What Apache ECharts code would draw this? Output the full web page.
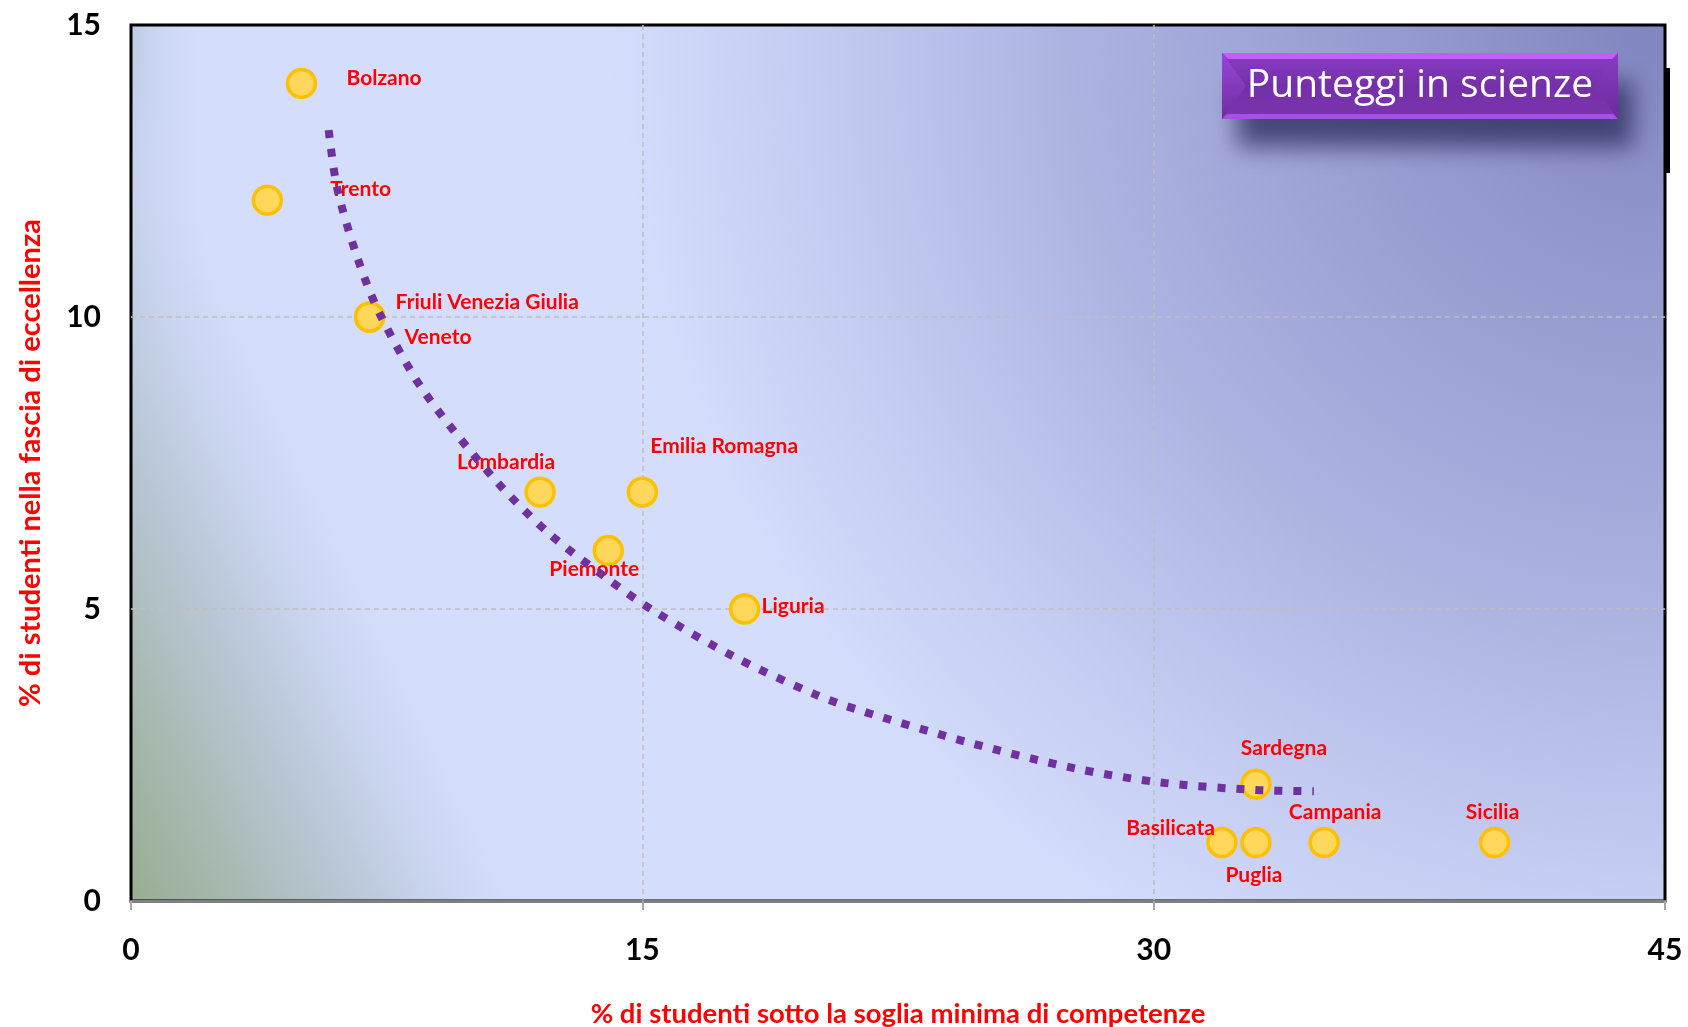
<!DOCTYPE html>
<html>
<head>
<meta charset="utf-8">
<script src="https://cdn.jsdelivr.net/npm/echarts@6/dist/echarts.min.js"></script>
<style>
  html, body { margin: 0; padding: 0; background: #fff; }
  #chart { width: 1688px; height: 1027px; }
</style>
</head>
<body>
<div id="chart"></div>
<script>
// regions: name, % below minimum threshold (x), % in excellence band (y)
const regions = ["Bolzano", "Trento", "Friuli Venezia Giulia", "Veneto", "Lombardia", "Emilia Romagna",
  "Piemonte", "Liguria", "Sardegna", "Basilicata", "Puglia", "Campania", "Sicilia"];
const belowMin = [5, 4, 7, 7, 12, 15, 14, 18, 33, 32, 33, 35, 40];
const excellence = [14, 12, 10, 10, 7, 7, 6, 5, 2, 1, 1, 1, 1];

// label placement relative to each point (px)
const labelPos = [
  ["left", 45, -5], ["left", 63, -11], ["left", 26, -15], ["left", 35, 20],
  ["center", -34, -30], ["left", 8, -46], ["center", -14, 19], ["left", 17, -3],
  ["center", 28, -36], ["right", -7, -14], ["center", -2, 33], ["center", 11, -30], ["center", -2, -30]
];

// trend curve
const trendX = [5.8, 6.05, 6.65, 7.3, 8.6, 10.7, 12.25, 13.95, 15.3, 17.7, 20.1, 21.4, 24.6, 27.7, 30.2, 33.0, 34.7];
const trendY = [13.2, 12.2, 11.0, 10.05, 8.72, 7.2, 6.3, 5.53, 4.98, 4.18, 3.53, 3.26, 2.71, 2.27, 2.03, 1.9, 1.88];

const xTicks = { min: 0, max: 45, interval: 15 };
const yTicks = { min: 0, max: 15, interval: 5 };

const G = { left: 131, top: 25, width: 1534, height: 876 };
const labelFont = "Lato, 'Open Sans', sans-serif";

// plot background painted once on a canvas
function plotBackground() {
  const c = document.createElement("canvas");
  c.width = G.width; c.height = G.height;
  const ctx = c.getContext("2d");
  const W = G.width, H = G.height;
  ctx.fillStyle = "#D4DEFC";
  ctx.fillRect(0, 0, W, H);

  // darker towards the top right
  let g = ctx.createRadialGradient(W, 0, 0, W, 0, 1250);
  g.addColorStop(0, "#8185C0");
  g.addColorStop(0.23, "#979CD0");
  g.addColorStop(0.46, "#ABB1E0");
  g.addColorStop(0.7, "#C6CEF3");
  g.addColorStop(0.85, "#D4DEFC");
  g.addColorStop(1, "#D4DEFC");
  ctx.fillStyle = g;
  ctx.fillRect(0, 0, W, H);

  // soft strip along the left edge
  g = ctx.createLinearGradient(0, 0, 80, 0);
  g.addColorStop(0, "rgba(186,199,222,0.8)");
  g.addColorStop(1, "rgba(212,222,252,0)");
  ctx.fillStyle = g;
  ctx.fillRect(0, 0, 80, H);

  // greenish corner bottom left
  const dx = 0.903, dy = -0.429, len = 370;
  g = ctx.createLinearGradient(0, H, dx * len, H + dy * len);
  g.addColorStop(0, "rgba(152,173,145,1)");
  g.addColorStop(0.3, "rgba(170,187,182,1)");
  g.addColorStop(0.6, "rgba(188,201,220,0.95)");
  g.addColorStop(0.85, "rgba(204,214,242,0.6)");
  g.addColorStop(1, "rgba(212,222,252,0)");
  ctx.fillStyle = g;
  ctx.fillRect(0, 0, W, H);
  return c;
}

const chart = echarts.init(document.getElementById("chart"));

const points = regions.map((name, i) => ({
  name: name,
  value: [belowMin[i], excellence[i]],
  label: {
    align: labelPos[i][0],
    offset: [labelPos[i][1], labelPos[i][2]]
  }
}));

const bw = 396, bh = 66;

chart.setOption({
  animation: false,
  backgroundColor: "#ffffff",
  grid: {
    left: G.left, top: G.top, width: G.width, height: G.height,
    outerBoundsMode: "none",
    show: true, borderColor: "#000", borderWidth: 3, backgroundColor: "transparent"
  },
  graphic: [
    {
      type: "image", z: -3, silent: true,
      style: { image: plotBackground(), x: G.left, y: G.top, width: G.width, height: G.height }
    },
    {
      type: "rect", z: 20, silent: true,
      shape: { x: 1665, y: 68, width: 5, height: 105 },
      style: { fill: "#000" }
    },
    {
      type: "group", z: 30, left: 1222, top: 53,
      children: [
        {
          type: "rect",
          shape: { x: 0, y: 0, width: bw, height: bh },
          style: {
            fill: {
              type: "linear", x: 0, y: 0, x2: 0, y2: 1,
              colorStops: [
                { offset: 0, color: "#8B3CC5" },
                { offset: 0.5, color: "#7430A8" },
                { offset: 1, color: "#7B34B0" }
              ]
            },
            shadowBlur: 25, shadowOffsetX: 15, shadowOffsetY: 28,
            shadowColor: "rgba(40,40,90,0.75)"
          }
        },
        {
          type: "polygon",
          shape: { points: [[0, 0], [bw, 0], [bw - 6, 6], [6, 6]] },
          style: { fill: "#C45CFF" }
        },
        {
          type: "polygon",
          shape: { points: [[0, bh], [bw, bh], [bw - 5, bh - 5], [5, bh - 5]] },
          style: { fill: "#A650E6" }
        },
        {
          type: "polygon",
          shape: { points: [[0, 0], [24, bh / 2], [0, bh]] },
          style: {
            fill: {
              type: "linear", x: 0, y: 0, x2: 0, y2: 1,
              colorStops: [{ offset: 0, color: "#9A45D8" }, { offset: 1, color: "#6E2DA2" }]
            }
          }
        },
        {
          type: "polygon",
          shape: { points: [[bw, 0], [bw - 24, bh / 2], [bw, bh]] },
          style: {
            fill: {
              type: "linear", x: 0, y: 0, x2: 0, y2: 1,
              colorStops: [{ offset: 0, color: "#8A3CC4" }, { offset: 1, color: "#6A2A9C" }]
            }
          }
        },
        {
          type: "text",
          style: {
            x: bw / 2, y: bh / 2, text: "Punteggi in scienze", fill: "#fff",
            font: "39px 'Open Sans', sans-serif", align: "center", verticalAlign: "middle"
          }
        }
      ]
    }
  ],
  xAxis: {
    type: "value", min: xTicks.min, max: xTicks.max, interval: xTicks.interval,
    name: "% di studenti sotto la soglia minima di competenze",
    nameLocation: "middle", nameGap: 99,
    nameTextStyle: { color: "#FF0000", fontSize: 27.5, fontWeight: "bold", fontFamily: labelFont },
    axisLine: { show: true, onZero: false, lineStyle: { color: "#7F7F7F", width: 2 } },
    axisTick: { show: true, length: 9, lineStyle: { color: "#A6A6A6", width: 2 } },
    axisLabel: { color: "#000", fontSize: 30, fontWeight: "bold", fontFamily: labelFont, margin: 34 },
    splitLine: {
      show: true, showMinLine: false, showMaxLine: false,
      lineStyle: { color: "#BFBFBF", type: [5, 4], width: 1.5 }
    }
  },
  yAxis: {
    type: "value", min: yTicks.min, max: yTicks.max, interval: yTicks.interval,
    name: "% di studenti nella fascia di eccellenza",
    nameLocation: "middle", nameGap: 86, nameRotate: 90,
    nameTextStyle: { color: "#FF0000", fontSize: 29, fontWeight: "bold", fontFamily: labelFont },
    axisLine: { show: false },
    axisTick: { show: false },
    axisLabel: { color: "#000", fontSize: 30, fontWeight: "bold", fontFamily: labelFont, margin: 30 },
    splitLine: {
      show: true, showMinLine: false, showMaxLine: false,
      lineStyle: { color: "#BFBFBF", type: [5, 4], width: 1.5 }
    }
  },
  series: [
    {
      type: "scatter", z: 2,
      symbol: "circle", symbolSize: 28,
      itemStyle: { color: "#FFD75A", borderColor: "#FFC000", borderWidth: 3.5, opacity: 1 },
      label: {
        show: true, position: "inside", verticalAlign: "middle",
        formatter: "{b}", color: "#FF0000", fontSize: 21, fontWeight: "bold", fontFamily: labelFont
      },
      data: points
    },
    {
      type: "line", z: 5, smooth: 0.3, showSymbol: false, silent: true,
      lineStyle: { color: "#7030A0", width: 8, type: [8, 11], cap: "butt" },
      data: trendX.map((x, i) => [x, trendY[i]])
    }
  ]
});
</script>
</body>
</html>
